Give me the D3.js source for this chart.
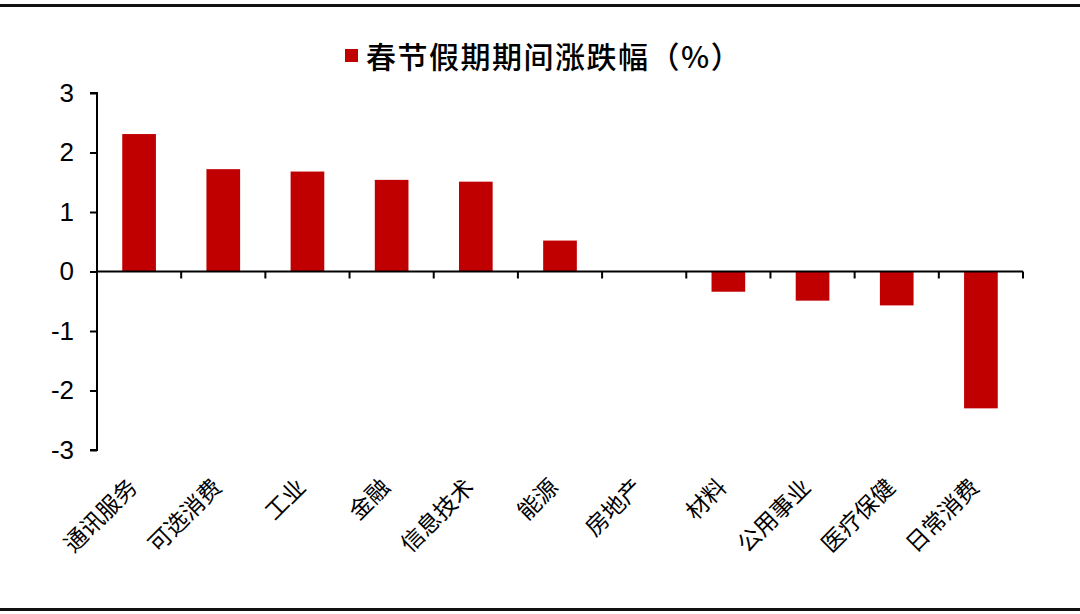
<!DOCTYPE html>
<html><head><meta charset="utf-8">
<script src="https://cdn.jsdelivr.net/npm/d3@7/dist/d3.min.js"></script>
<style>body{margin:0;background:#fff;} svg{display:block;}</style>
</head><body>
<script>
const categories = ["通讯服务","可选消费","工业","金融","信息技术","能源","房地产","材料","公用事业","医疗保健","日常消费"];
const values = [2.31, 1.72, 1.68, 1.54, 1.51, 0.52, 0.0, -0.34, -0.49, -0.57, -2.30];
const yTicks = [3,2,1,0,-1,-2,-3];
const seriesName = "春节假期期间涨跌幅（%）";

const W = 1080, H = 614;
const svg = d3.select("body").append("svg").attr("width", W).attr("height", H);

// frame lines
svg.append("rect").attr("x",0).attr("y",4).attr("width",W).attr("height",3).attr("fill","#111");
svg.append("rect").attr("x",0).attr("y",608).attr("width",W).attr("height",3).attr("fill","#111");

const x0 = 97, x1 = 1023;
const y = d3.scaleLinear().domain([-3,3]).range([450, 93]);
const x = d3.scaleBand().domain(categories).range([x0, x1]).paddingInner(0.6).paddingOuter(0.3);

// bars
svg.selectAll("rect.bar").data(values).enter().append("rect")
  .attr("class","bar")
  .attr("x",(d,i)=>x(categories[i]))
  .attr("width",x.bandwidth())
  .attr("y",d=>y(Math.max(0,d)))
  .attr("height",d=>Math.abs(y(d)-y(0)))
  .attr("fill","#C00000");

// y axis
const yAxis = d3.axisLeft(y).tickValues(yTicks).tickSize(7).tickPadding(16).tickFormat(d => String(d));
const gy = svg.append("g").attr("transform",`translate(${x0},0)`).call(yAxis);
gy.select(".domain").attr("stroke","#000").attr("stroke-width",2).attr("d",`M-7,${y(3)}H0V${y(-3)}H-7`);
gy.selectAll(".tick line").attr("stroke","#000").attr("stroke-width",2);
gy.selectAll(".tick text").attr("font-family","'Liberation Sans', Arial, sans-serif").attr("font-size",26).attr("fill","#000");

// x axis at zero
const boundaries = d3.range(categories.length+1).map(i => x0 + i*(x1-x0)/categories.length);
const gx = svg.append("g");
gx.append("line").attr("x1",x0).attr("x2",x1).attr("y1",y(0)).attr("y2",y(0)).attr("stroke","#000").attr("stroke-width",2);
gx.selectAll("line.t").data(boundaries.slice(1)).enter().append("line")
  .attr("x1",d=>d).attr("x2",d=>d).attr("y1",y(0)).attr("y2",y(0)+7).attr("stroke","#000").attr("stroke-width",2);

// x labels
svg.selectAll("text.xl").data(categories).enter().append("text")
  .attr("class","xl")
  .attr("transform",d=>`translate(${x(d)+x.bandwidth()/2-6},${483}) rotate(-45)`)
  .attr("text-anchor","end")
  .attr("dy","0.35em")
  .attr("font-family","'Noto Sans CJK SC', sans-serif")
  .attr("font-size",23)
  .attr("fill","#000")
  .text(d=>d);

// legend
svg.append("rect").attr("x",345).attr("y",49).attr("width",13).attr("height",13).attr("fill","#C00000");
svg.append("text").attr("x",366).attr("y",57).attr("dy","0.36em")
  .attr("font-family","'Noto Sans CJK SC', sans-serif").attr("font-size",30).attr("font-weight",500)
  .attr("letter-spacing",1.5)
  .attr("fill","#000").text(seriesName);
</script>
</body></html>
